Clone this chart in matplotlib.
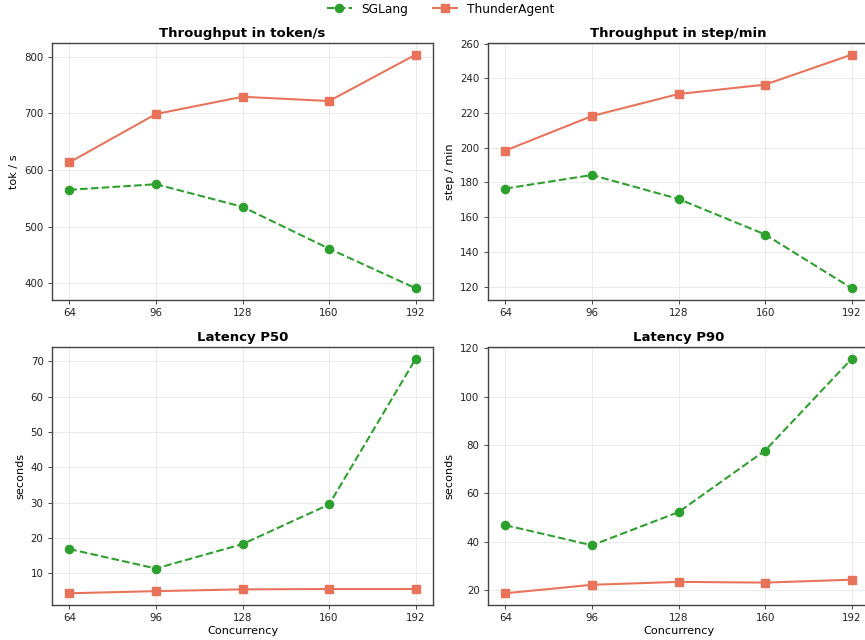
import matplotlib
matplotlib.use("Agg")
import matplotlib.pyplot as plt

concurrency = [64, 96, 128, 160, 192]
tok_sglang = [565, 575, 535, 461, 391]
tok_thunder = [613.5, 699, 729.5, 722, 804]
step_sglang = [176.5, 184.3, 170.5, 150, 119]
step_thunder = [198.4, 218.3, 231, 236.4, 253.7]
p50_sglang = [16.9, 11.4, 18.3, 29.5, 70.7]
p50_thunder = [4.4, 5.0, 5.5, 5.6, 5.6]
p90_sglang = [46.9, 38.6, 52.3, 77.7, 115.6]
p90_thunder = [18.8, 22.3, 23.5, 23.2, 24.4]

GREEN = "#2ca02c"
ORANGE = "#e8735a"
S = 0.735

fig = plt.figure(figsize=(8.65, 6.4), dpi=100)
w, h_top, h_bot = 0.4405, 0.4016, 0.4031
positions = [
    [0.0601, 0.5313, w, h_top],
    [0.5642, 0.5313, w, h_top],
    [0.0601, 0.0547, w, h_bot],
    [0.5642, 0.0547, w, h_bot],
]
panels = [
    ("Throughput in token/s", "tok / s", tok_sglang, tok_thunder, False),
    ("Throughput in step/min", "step / min", step_sglang, step_thunder, False),
    ("Latency P50", "seconds", p50_sglang, p50_thunder, True),
    ("Latency P90", "seconds", p90_sglang, p90_thunder, True),
]
handles = None
for pos, (title, ylabel, sg, th, xl) in zip(positions, panels):
    ax = fig.add_axes(pos)
    l1, = ax.plot(concurrency, sg, linestyle="--", marker="o", color=GREEN,
                  linewidth=2 * S, markersize=8 * S, label="SGLang")
    l2, = ax.plot(concurrency, th, linestyle="-", marker="s", color=ORANGE,
                  linewidth=2 * S, markersize=8 * S, label="ThunderAgent")
    handles = [l1, l2]
    ax.set_title(title, fontsize=13 * S, fontweight="bold", pad=4)
    ax.set_ylabel(ylabel, fontsize=11 * S)
    if xl:
        ax.set_xlabel("Concurrency", fontsize=11 * S, labelpad=2)
    ax.set_xticks(concurrency)
    ax.tick_params(labelsize=10 * S, colors="#222222", width=0.8 * S, length=3.5 * S)
    ax.grid(True, alpha=0.3, linewidth=0.8 * S)
    for s in ax.spines.values():
        s.set_color("#444444")
        s.set_linewidth(1.0)

fig.legend(handles, ["SGLang", "ThunderAgent"], loc="upper center",
           bbox_to_anchor=(0.5096, 1.013), ncol=2, frameon=False, fontsize=12 * S,
           handlelength=2, columnspacing=2)
fig.savefig("out.png", dpi=100)
